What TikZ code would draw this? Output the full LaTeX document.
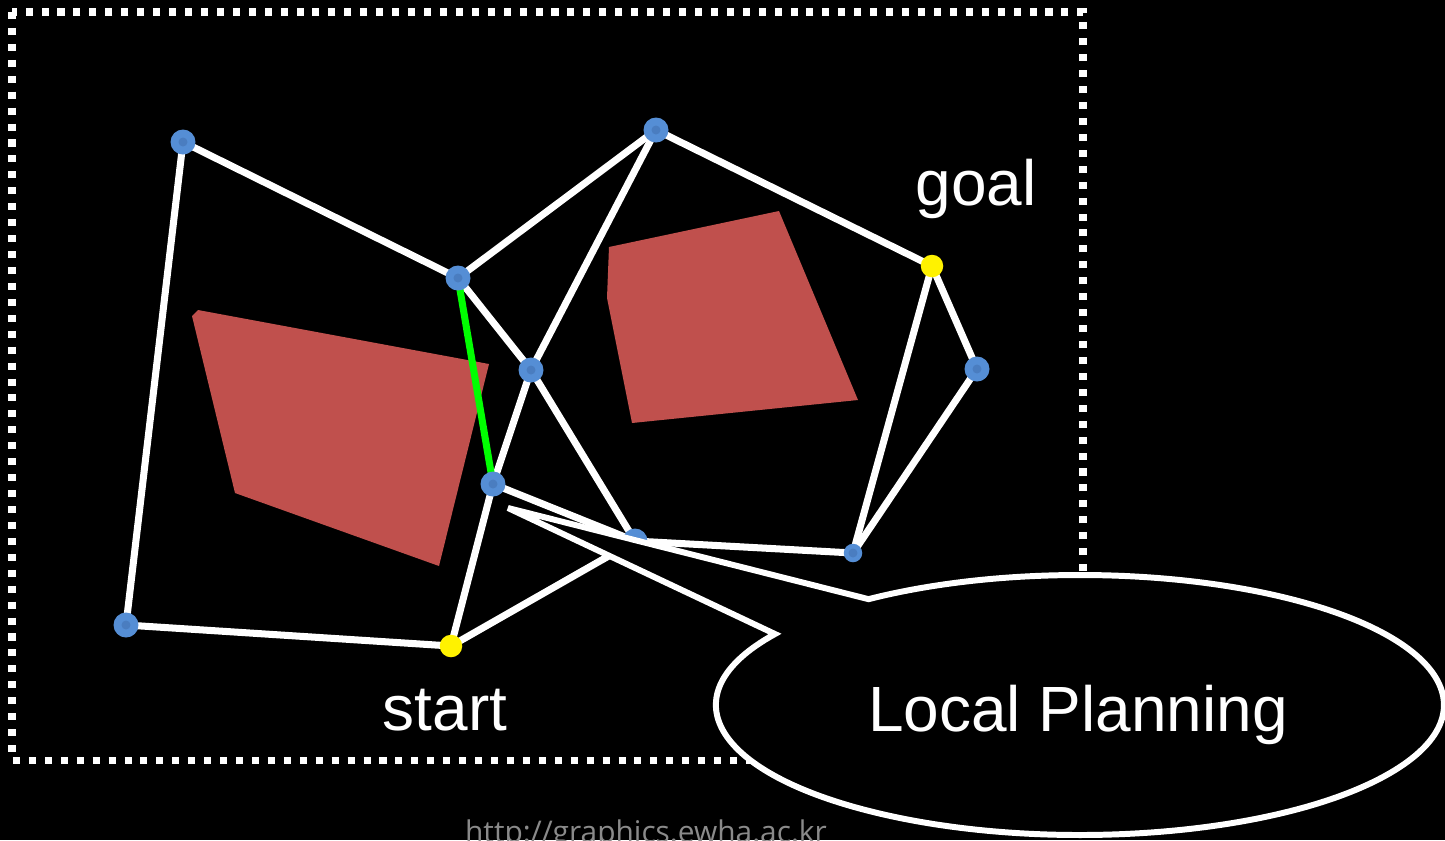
\documentclass[tikz,border=0pt]{standalone}
\usepackage{fontspec}
\setmainfont{Liberation Sans}
\newfontfamily\footfont{Open Sans}
\definecolor{nodeblue}{HTML}{558ED5}
\definecolor{nodecore}{HTML}{4A7DC0}
\definecolor{obst}{HTML}{C0504D}
\definecolor{pathgreen}{HTML}{00FF00}
\definecolor{footgray}{HTML}{8A8A8A}
\pgfdeclarelayer{bg}
\pgfdeclarelayer{edges}
\pgfdeclarelayer{top}
\pgfsetlayers{bg,edges,main,top}
\tikzset{
  bnode/.style={circle, fill=nodeblue, inner sep=0pt, minimum size=0.5cm,
    path picture={\fill[nodecore] (path picture bounding box.center) circle (0.09cm);}},
  snode/.style={bnode, minimum size=0.37cm},
  ynode/.style={circle, fill=yellow, inner sep=0pt, minimum size=0.45cm},
  edge/.style={draw=white, line width=4pt},
  gedge/.style={draw=pathgreen, line width=4pt},
  obstacle/.style={fill=obst},
  frame/.style={draw=white, line width=4pt, dash pattern=on 4pt off 5.07pt},
  callout/.style={draw=white, fill=black, line width=3.4pt, line join=miter},
  lbl/.style={text=white, font=\fontsize{36.4}{40}\selectfont, anchor=base, inner sep=0pt},
  foot/.style={text=footgray, font=\footfont\fontsize{17}{20}\selectfont, anchor=base, inner sep=0pt}
}
\begin{document}
\begin{tikzpicture}[x=0.02cm, y=-0.02cm]
\useasboundingbox (0,0) rectangle (1445,840);
\clip (0,0) rectangle (1445,840);
\begin{pgfonlayer}{bg}
  \fill[black] (0,0) rectangle (1445,840);
  \path[obstacle] (192,316) -- (198,310) -- (489,364) -- (439,566) -- (235,493) -- cycle;
  \path[obstacle] (609,247) -- (779,211) -- (858,400) -- (632,423) -- (607,298) -- cycle;
\end{pgfonlayer}

% nodes
\node[bnode] (A) at (183,142) {};
\node[bnode] (B) at (656,130) {};
\node[bnode] (C) at (458,278) {};
\node[bnode] (D) at (531,370) {};
\node[bnode] (E) at (493,484) {};
\node[bnode] (F) at (635,541) {};
\node[snode] (G) at (853,553) {};
\node[bnode] (H) at (977,369) {};
\node[bnode] (I) at (126,625) {};
\node[ynode] (S) at (451,646) {};
\node[ynode] (T) at (932,266) {};

\begin{pgfonlayer}{edges}
  \draw[edge] (A.center) -- (C.center);
  \draw[edge] (A.center) -- (I.center);
  \draw[edge] (I.center) -- (S.center);
  \draw[edge] (C.center) -- (B.center);
  \draw[edge] (C.center) -- (D.center);
  \draw[edge] (B.center) -- (D.center);
  \draw[edge] (B.center) -- (T.center);
  \draw[edge] (T.center) -- (H.center);
  \draw[edge] (T.center) -- (G.center);
  \draw[edge] (H.center) -- (G.center);
  \draw[edge] (D.center) -- (E.center);
  \draw[edge] (D.center) -- (F.center);
  \draw[edge] (E.center) -- (S.center);
  \draw[edge] (S.center) -- (F.center);
  \draw[edge] (E.center) -- (F.center);
  \draw[edge] (F.center) -- (G.center);
  \draw[gedge] (C.center) -- (E.center);
\end{pgfonlayer}

% frame
\draw[frame] (12,12) rectangle (1083,760);

% labels
\node[lbl] (goal) at (976,205) {goal};
\node[lbl] (start) at (445,730) {start};
\node[foot] (url) at (646,842) {http://graphics.ewha.ac.kr};

\begin{pgfonlayer}{top}
  \coordinate (tip) at (508,508);
  \draw[callout] (775,634) arc[start angle=213.1, end angle=-125.5, x radius=364, y radius=130] -- (tip) -- cycle;
  \node[lbl] (lp) at (1078,731) {Local Planning};
\end{pgfonlayer}
\end{tikzpicture}
\end{document}
